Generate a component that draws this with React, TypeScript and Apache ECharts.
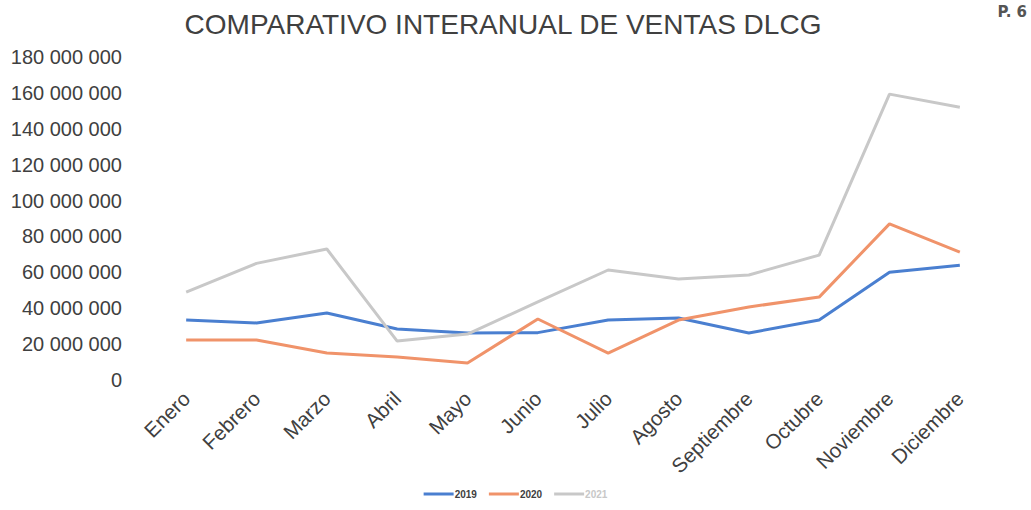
import React, { useEffect, useRef } from "react";
import * as echarts from "echarts";

const months = ["Enero", "Febrero", "Marzo", "Abril", "Mayo", "Junio", "Julio", "Agosto", "Septiembre", "Octubre", "Noviembre", "Diciembre"];
const v2019 = [33400000, 31800000, 37300000, 28400000, 26200000, 26400000, 33400000, 34500000, 26200000, 33400000, 60000000, 64000000];
const v2020 = [22300000, 22300000, 15000000, 12800000, 9500000, 34000000, 15000000, 33400000, 40700000, 46200000, 87000000, 71300000];
const v2021 = [49000000, 65000000, 73000000, 21700000, 25600000, 43500000, 61300000, 56300000, 58500000, 69600000, 159300000, 152000000];
const yTicks = { min: 0, max: 180000000, interval: 20000000 };

const fmt = (v: number) => {
  if (v === 0) return "0";
  return String(Math.round(v)).replace(/\B(?=(\d{3})+(?!\d))/g, " ");
};

export default function App() {
  const ref = useRef<HTMLDivElement>(null);
  useEffect(() => {
    if (!ref.current) return;
    const chart = echarts.init(ref.current, undefined, { renderer: "svg" });
    const font = "Liberation Sans, Arial, sans-serif";
    chart.setOption({
      animation: false,
      backgroundColor: "#ffffff",
      textStyle: { fontFamily: font },
      title: {
        text: "COMPARATIVO INTERANUAL DE VENTAS DLCG",
        left: 498,
        top: 5,
        textAlign: "center",
        textStyle: { fontSize: 28, fontWeight: "normal", color: "#404040", fontFamily: font },
      },
      graphic: [
        {
          type: "text",
          right: 4,
          top: 4,
          style: { text: "P. 6", fontSize: 15, fontWeight: "bold", fill: "#555", fontFamily: "DejaVu Sans, sans-serif" },
        },
      ],
      legend: {
        bottom: 6,
        left: "center",
        itemWidth: 30,
        itemHeight: 3,
        itemGap: 12,
        icon: "rect",
        textStyle: { fontSize: 10, fontWeight: "bold", color: "#404040", padding: [0, 0, 0, -4] },
        data: [
          { name: "2019" },
          { name: "2020" },
          { name: "2021", textStyle: { color: "#c8c8c8" } },
        ],
      },
      grid: { left: 151, right: 36, top: 57, bottom: 130 },
      xAxis: {
        type: "category",
        data: months,
        boundaryGap: true,
        axisLine: { show: false },
        axisTick: { show: false },
        axisLabel: { rotate: 45, fontSize: 20.5, color: "#404040", margin: 15, interval: 0 },
      },
      yAxis: {
        type: "value",
        min: yTicks.min,
        max: yTicks.max,
        interval: yTicks.interval,
        splitLine: { show: false },
        axisLine: { show: false },
        axisTick: { show: false },
        axisLabel: { fontSize: 20, color: "#404040", margin: 29, formatter: fmt },
      },
      series: [
        { name: "2019", type: "line", data: v2019, symbol: "none", lineStyle: { width: 3, color: "#4a7fd0" }, itemStyle: { color: "#4a7fd0" } },
        { name: "2020", type: "line", data: v2020, symbol: "none", lineStyle: { width: 3, color: "#f0936a" }, itemStyle: { color: "#f0936a" } },
        { name: "2021", type: "line", data: v2021, symbol: "none", lineStyle: { width: 3, color: "#c8c8c8" }, itemStyle: { color: "#c8c8c8" } },
      ],
    });
    return () => chart.dispose();
  }, []);
  return <div ref={ref} style={{ width: 1031, height: 510, position: "absolute", left: 0, top: 0 }} />;
}
